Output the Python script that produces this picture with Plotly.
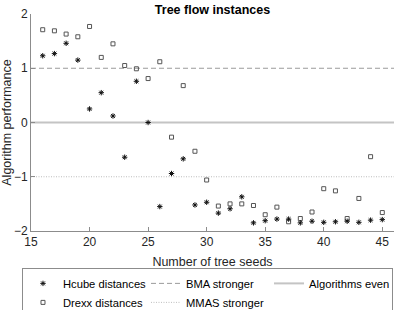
import plotly.graph_objects as go

seeds = list(range(16, 46))
hcube = [1.23, 1.27, 1.46, 1.15, 0.25, 0.55, 0.12, -0.64, 0.76, 0.00,
         -1.55, -0.94, -0.67, -1.52, -1.47, -1.67, -1.59, -1.37, -1.85, -1.81,
         -1.78, -1.78, -1.85, -1.82, -1.84, -1.83, -1.82, -1.84, -1.80, -1.79]
drexx = [1.71, 1.69, 1.63, 1.58, 1.77, 1.20, 1.45, 1.05, 0.99, 0.81,
         1.12, -0.27, 0.68, -0.53, -1.06, -1.54, -1.50, -1.50, -1.53, -1.70,
         -1.56, -1.83, -1.77, -1.65, -1.22, -1.26, -1.77, -1.40, -0.63, -1.66]

line_x = [15, 46]
bma_level = [1, 1]
mmas_level = [-1, -1]
even_level = [0, 0]

x_ticks = [15, 20, 25, 30, 35, 40, 45]
y_ticks = [-2, -1, 0, 1, 2]

font = "Liberation Sans, Arial, Helvetica, sans-serif"
txt = "#262626"
axc = "#8c8c8c"

fig = go.Figure()
fig.add_trace(go.Scatter(x=line_x, y=even_level, mode="lines", name="Algorithms even",
                         line=dict(color="#c4c4c4", width=2), legendrank=3))
fig.add_trace(go.Scatter(x=line_x, y=bma_level, mode="lines", name="BMA stronger",
                         line=dict(color="#9a9a9a", width=1, dash="5px,3px"), legendrank=2))
fig.add_trace(go.Scatter(x=line_x, y=mmas_level, mode="lines", name="MMAS stronger",
                         line=dict(color="#bdbdbd", width=1, dash="1px,1.5px"), legendrank=5))
fig.add_trace(go.Scatter(x=seeds, y=drexx, mode="markers", name="Drexx distances",
                         marker=dict(symbol="square-open", size=4, color="#555555",
                                     line=dict(width=1)), legendrank=4))
fig.add_trace(go.Scatter(x=seeds, y=hcube, mode="markers", name="Hcube distances",
                         marker=dict(symbol="asterisk-open", size=4.5, color="#111111",
                                     line=dict(width=1, color="#111111")), legendrank=1))

fig.update_layout(
    width=395, height=310,
    margin=dict(l=31, r=1, t=14, b=79, autoexpand=False),
    paper_bgcolor="white", plot_bgcolor="white",
    font=dict(family=font, size=12, color=txt),
    title=dict(text="<b>Tree flow instances</b>", x=(31 + 394) / 2 / 395, xanchor="center",
               y=1 - 10 / 310, yanchor="middle", yref="container",
               font=dict(size=12.5, color="#000000")),
    xaxis=dict(range=[15, 46], tickvals=x_ticks, ticks="inside", ticklen=4,
               tickcolor=axc, showline=True, linecolor=axc, linewidth=1,
               showgrid=False, zeroline=False, mirror=False, automargin=False,
               title=dict(text="Number of tree seeds", standoff=8,
                          font=dict(size=12.5))),
    yaxis=dict(range=[-2, 2], tickvals=y_ticks, ticks="inside", ticklen=4,
               tickcolor=axc, showline=True, linecolor=axc, linewidth=1,
               showgrid=False, zeroline=False, mirror=False, automargin=False,
               title=dict(text="Algorithm performance", standoff=8,
                          font=dict(size=12.5))),
    showlegend=True,
    legend=dict(orientation="h", x=-0.0248, xanchor="left", y=-0.17, yanchor="top",
                bordercolor="#8c8c8c", borderwidth=1, bgcolor="white",
                entrywidth=78, entrywidthmode="pixels",
                font=dict(size=11.2, color="#000000"),
                itemwidth=30, tracegroupgap=0),
)

fig.write_html("out.html", config={"displayModeBar": False},
               post_script="document.body.style.margin='0';document.body.style.padding='0';")
